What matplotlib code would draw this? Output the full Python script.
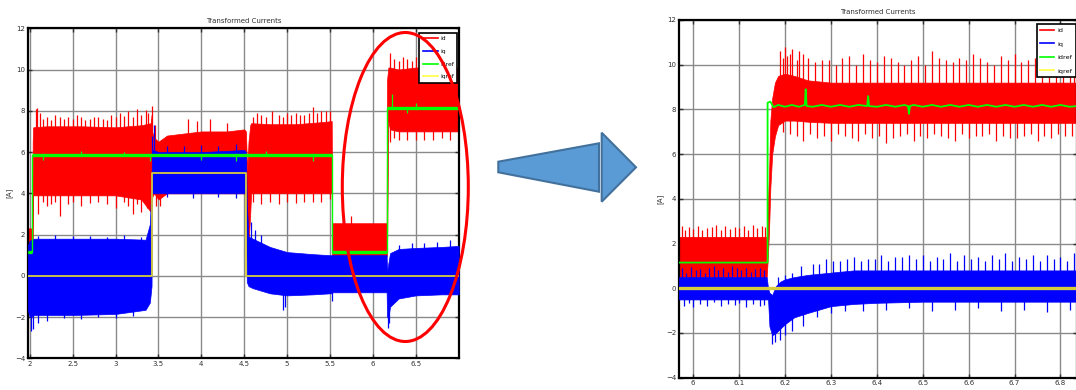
import matplotlib
matplotlib.use("Agg")
import matplotlib.pyplot as plt
import numpy as np
from matplotlib.lines import Line2D
from matplotlib.patches import Ellipse, Polygon

plt.rcParams['font.family'] = ['Liberation Sans Narrow', 'DejaVu Sans']

# ---------------- left plot: whole run (t = 1.98 .. 7.0 s) ----------------
# id : envelope of the noisy band + the spikes sticking out of it
L_id_t = [1.98, 2.03, 2.035, 2.04, 2.2, 2.6, 3.0, 3.3, 3.41, 3.42, 3.425, 3.45, 3.5, 3.6, 3.8, 4.0, 4.3, 4.5,
          4.52, 4.535, 4.55, 4.57, 4.58, 4.8, 5.1, 5.4, 5.52, 5.525, 5.8, 6.0, 6.16, 6.165, 6.18, 6.2, 6.3,
          6.5, 6.8, 7.0]
L_id_hi = [2.3, 2.3, 6.5, 7.2, 7.25, 7.25, 7.2, 7.3, 7.4, 7.8, 7.0, 6.7, 6.5, 6.8, 6.9, 7.0, 7.0, 7.1,
           7.0, 5.0, 6.5, 7.3, 7.4, 7.35, 7.35, 7.45, 7.5, 2.55, 2.55, 2.55, 2.55, 9.5, 10.1, 10.1, 10.0,
           10.1, 10.1, 10.1]
L_id_lo = [1.1, 1.1, 1.1, 3.9, 3.9, 3.9, 3.9, 3.7, 3.1, 2.9, 3.8, 4.0, 3.7, 4.0, 4.0, 4.0, 4.0, 4.0,
           3.9, 2.0, 1.6, 3.0, 4.0, 4.0, 4.0, 4.0, 4.0, 0.95, 0.95, 0.95, 0.95, 1.1, 7.5, 7.1, 7.0,
           7.0, 7.0, 7.0]
L_id_up_t = [2.07, 2.09, 2.12, 2.15, 2.2, 2.25, 2.3, 2.35, 2.4, 2.45, 2.5, 2.55, 2.6, 2.65, 2.7, 2.75,
             2.8, 2.85, 2.9, 2.95, 3.0, 3.05, 3.1, 3.15, 3.2, 3.25, 3.3, 3.35, 3.38, 3.43, 3.46, 3.85,
             3.95, 4.1, 4.3, 4.6, 4.65, 4.7, 4.75, 4.82, 4.9, 4.95, 5.0, 5.05, 5.1, 5.15, 5.2, 5.25,
             5.3, 5.35, 5.4, 5.45, 5.5, 5.65, 5.75, 6.2, 6.25, 6.3, 6.35, 6.4, 6.45, 6.5, 6.55, 6.6,
             6.65, 6.7, 6.75, 6.8, 6.85, 6.9, 6.95]
L_id_up_v = [8.1, 8.15, 7.9, 7.6, 7.7, 7.55, 7.8, 7.7, 7.6, 7.7, 7.6, 7.8, 7.7, 7.55, 7.6, 7.7,
             7.7, 7.6, 7.55, 7.8, 7.7, 7.9, 7.75, 8.0, 7.7, 8.1, 7.8, 8.05, 7.9, 8.25, 7.3, 7.6,
             7.5, 7.6, 7.4, 7.7, 7.9, 7.8, 7.7, 8.0, 7.8, 7.7, 7.9, 7.8, 7.9, 7.8, 7.8, 7.9,
             8.2, 7.9, 8.0, 8.0, 8.0, 3.0, 2.9, 10.8, 10.5, 10.4, 10.6, 10.5, 10.4, 10.6, 10.7, 10.5,
             10.4, 10.5, 10.5, 10.6, 10.4, 10.5, 10.5]
L_id_dn_t = [2.1, 2.15, 2.2, 2.25, 2.3, 2.35, 2.45, 2.5, 2.6, 2.7, 2.8, 2.9, 3.0, 3.1, 3.15, 3.2, 3.25,
             3.3, 3.37, 3.47, 3.52, 4.6, 4.7, 4.8, 4.9, 5.0, 5.1, 5.2, 5.3, 5.4, 5.5, 6.2, 6.25, 6.3,
             6.4, 6.5, 6.6, 6.7, 6.8, 6.9]
L_id_dn_v = [3.0, 3.6, 3.4, 3.5, 3.6, 2.9, 3.5, 3.6, 3.4, 3.55, 3.6, 3.5, 3.3, 3.6, 3.4, 3.0, 3.5,
             3.1, 3.3, 3.4, 3.4, 3.6, 3.5, 3.6, 3.5, 3.6, 3.55, 3.6, 3.6, 3.6, 3.7, 6.5, 6.7, 6.6,
             6.6, 6.6, 6.6, 6.6, 6.7, 6.6]

# iq
L_iq_t = [1.98, 2.0, 2.05, 2.5, 3.0, 3.35, 3.4, 3.42, 3.425, 3.44, 3.5, 4.0, 4.5, 4.52, 4.53, 4.55, 4.6,
          4.8, 5.0, 5.3, 5.5, 5.52, 5.53, 5.8, 6.16, 6.165, 6.18, 6.2, 6.3, 6.5, 6.8, 7.0]
L_iq_hi = [1.5, 1.7, 1.8, 1.8, 1.8, 1.75, 2.5, 4.5, 6.0, 6.1, 6.0, 6.0, 6.1, 6.0, 3.5, 1.9, 1.8,
           1.4, 1.15, 1.05, 1.0, 1.0, 1.0, 1.0, 1.0, 0.2, 0.6, 1.1, 1.3, 1.35, 1.4, 1.45]
L_iq_lo = [-1.7, -2.0, -1.9, -1.9, -1.85, -1.65, -1.3, -0.5, 4.0, 4.0, 4.0, 4.0, 4.0, 4.0, -0.3, -0.5,
           -0.6, -0.85, -0.95, -0.9, -0.85, -0.85, -0.8, -0.8, -0.8, -2.0, -2.0, -1.5, -1.1, -0.95,
           -0.9, -0.9]
L_iq_up_t = [3.43, 3.45, 2.1, 2.3, 2.5, 2.7, 2.9, 3.1, 3.3, 3.6, 3.8, 4.0, 4.2, 4.4, 4.58, 4.62,
             4.7, 6.3, 6.45, 6.6, 6.75, 6.9]
L_iq_up_v = [6.8, 7.3, 1.95, 2.0, 1.95, 1.95, 1.9, 2.0, 1.9, 6.3, 6.3, 6.35, 6.3, 6.4, 2.6, 2.2,
             2.0, 1.5, 1.6, 1.6, 1.65, 1.75]
L_iq_dn_t = [2.02, 2.04, 2.1, 2.2, 2.4, 2.6, 2.8, 3.0, 3.2, 3.6, 3.9, 4.2, 4.4, 4.95, 4.98, 5.52,
             6.172, 6.19]
L_iq_dn_v = [-2.7, -2.6, -2.3, -2.2, -2.05, -2.1, -2.0, -2.05, -1.95, 3.8, 3.75, 3.8, 3.75, -1.65,
             -1.5, -1.2, -2.55, -2.3]

# references
L_idref_t = [1.98, 2.032, 2.032, 5.52, 5.52, 6.16, 6.16, 7.0]
L_idref_v = [1.15, 1.15, 5.85, 5.85, 1.15, 1.15, 8.15, 8.15]
L_idref_sp_t = [2.15, 2.6, 3.1, 3.4, 4.0, 4.4, 4.75, 5.3, 6.22, 6.4, 6.5]
L_idref_sp_v = [5.6, 6.05, 6.0, 5.55, 5.6, 5.55, 6.05, 5.55, 8.8, 7.9, 8.4]
L_iqref_t = [1.98, 3.42, 3.42, 4.52, 4.52, 7.0]
L_iqref_v = [0, 0, 5, 5, 0, 0]

# ---------------- right plot: zoom on the step (t = 5.969 .. 6.836 s) ----------------
R_id_t = [5.969, 6.16, 6.162, 6.165, 6.168, 6.172, 6.178, 6.185, 6.2, 6.22, 6.25, 6.3, 6.4, 6.5, 6.6,
          6.7, 6.8, 6.836]
R_id_hi = [2.3, 2.3, 3.5, 5.0, 7.5, 8.5, 9.2, 9.5, 9.6, 9.5, 9.3, 9.2, 9.2, 9.2, 9.2, 9.2, 9.2, 9.2]
R_id_lo = [0.5, 0.5, 1.2, 2.5, 4.5, 6.0, 6.8, 7.3, 7.5, 7.5, 7.45, 7.4, 7.4, 7.4, 7.4, 7.4, 7.4, 7.4]
R_id_up_t = [5.975, 5.983, 5.99, 6.0, 6.01, 6.02, 6.03, 6.04, 6.05, 6.06, 6.07, 6.08, 6.09, 6.1, 6.11,
             6.12, 6.13, 6.14, 6.15, 6.157,
             6.19, 6.195, 6.2, 6.205, 6.21, 6.215, 6.225, 6.23, 6.24, 6.25, 6.265, 6.28, 6.295, 6.31,
             6.325, 6.34, 6.355, 6.37, 6.385, 6.40, 6.415, 6.43, 6.445, 6.46, 6.475, 6.49, 6.505, 6.52,
             6.535, 6.55, 6.565, 6.58, 6.595, 6.61, 6.625, 6.64, 6.655, 6.67, 6.685, 6.70, 6.715, 6.73,
             6.745, 6.76, 6.775, 6.79, 6.805, 6.82, 6.83]
R_id_up_v = [2.8, 2.6, 2.75, 2.65, 2.8, 2.6, 2.7, 2.75, 2.85, 2.6, 2.8, 2.65, 2.75, 2.7, 2.8,
             2.6, 2.85, 2.7, 2.8, 2.75,
             10.6, 10.3, 10.8, 10.4, 10.5, 10.7, 10.2, 10.6, 10.5, 10.3, 10.1, 10.2, 10.2, 10.0,
             10.3, 10.4, 10.0, 10.5, 10.2, 10.1, 10.4, 10.3, 10.1, 10.0, 10.2, 10.4, 10.0, 10.6,
             10.3, 10.2, 10.1, 10.3, 10.2, 10.5, 10.3, 10.1, 10.0, 10.4, 10.2, 10.5, 10.1, 10.2,
             10.3, 10.4, 10.0, 10.3, 10.2, 10.4, 10.1]
R_id_dn_t = [6.195, 6.21, 6.225, 6.24, 6.255, 6.27, 6.285, 6.3, 6.315, 6.33, 6.345, 6.36, 6.375, 6.39,
             6.405, 6.42, 6.435, 6.45, 6.465, 6.48, 6.495, 6.51, 6.525, 6.54, 6.555, 6.57, 6.585,
             6.6, 6.615, 6.63, 6.645, 6.66, 6.675, 6.69, 6.705, 6.72, 6.735, 6.75, 6.765, 6.78,
             6.795, 6.81, 6.825]
R_id_dn_v = [7.0, 6.9, 6.8, 6.6, 6.9, 6.7, 6.8, 6.6, 6.9, 6.8, 6.7, 6.6, 6.9, 6.7,
             6.8, 6.5, 6.7, 6.8, 6.9, 6.6, 6.8, 6.7, 6.9, 6.8, 6.7, 6.6, 6.9,
             6.7, 6.8, 6.8, 6.9, 6.6, 6.8, 6.7, 6.7, 6.8, 6.9, 6.6, 6.8, 6.7,
             6.9, 6.8, 6.8]

R_iq_t = [5.969, 6.16, 6.163, 6.166, 6.172, 6.18, 6.19, 6.2, 6.22, 6.25, 6.3, 6.35, 6.4, 6.5, 6.6,
          6.7, 6.8, 6.836]
R_iq_hi = [0.5, 0.5, 0.0, -0.2, -0.3, 0.1, 0.3, 0.4, 0.5, 0.6, 0.7, 0.8, 0.8, 0.8, 0.8, 0.8, 0.8, 0.8]
R_iq_lo = [-0.5, -0.5, -0.5, -1.7, -2.1, -2.0, -1.8, -1.6, -1.3, -1.1, -0.8, -0.7, -0.65, -0.6,
           -0.6, -0.6, -0.6, -0.6]
R_iq_up_t = [5.975, 5.985, 5.995, 6.005, 6.015, 6.025, 6.035, 6.045, 6.055, 6.065, 6.075, 6.085,
             6.095, 6.105, 6.115, 6.125, 6.135, 6.145, 6.155,
             6.185, 6.2, 6.215, 6.235, 6.26, 6.275, 6.29, 6.305, 6.32, 6.335, 6.35, 6.365, 6.38,
             6.395, 6.41, 6.425, 6.44, 6.455, 6.47, 6.485, 6.5, 6.515, 6.53, 6.545, 6.56, 6.575,
             6.59, 6.605, 6.62, 6.635, 6.65, 6.665, 6.68, 6.695, 6.71, 6.725, 6.74, 6.755, 6.77,
             6.785, 6.8, 6.815, 6.83]
R_iq_up_v = [0.9, 0.7, 0.95, 0.8, 0.85, 0.7, 0.9, 1.0, 0.8, 0.9, 0.75, 1.0, 0.9, 0.8, 0.9,
             0.75, 0.85, 0.9, 0.8,
             0.5, 0.6, 0.7, 1.0, 1.1, 1.1, 1.3, 1.2, 1.2, 1.3, 1.4, 1.2, 1.3, 1.3, 1.5, 1.2,
             1.4, 1.4, 1.5, 1.3, 1.5, 1.2, 1.4, 1.3, 1.6, 1.2, 1.5, 1.3, 1.4, 1.2, 1.5, 1.3,
             1.6, 1.2, 1.4, 1.3, 1.5, 1.2, 1.5, 1.3, 1.4, 1.2, 1.6]
R_iq_dn_t = [5.98, 5.99, 6.0, 6.015, 6.03, 6.045, 6.06, 6.075, 6.09, 6.1, 6.115, 6.13, 6.145, 6.155,
             6.172, 6.178, 6.19, 6.2, 6.215, 6.24, 6.27, 6.3, 6.33, 6.37, 6.42, 6.47, 6.52, 6.57,
             6.62, 6.67, 6.72, 6.77, 6.82]
R_iq_dn_v = [-0.8, -0.65, -0.85, -0.7, -0.8, -0.6, -0.8, -0.7, -0.75, -0.65, -0.85, -0.7, -0.8, -0.75,
             -2.5, -2.4, -2.3, -2.1, -1.9, -1.7, -1.3, -1.1, -1.0, -1.0, -0.95, -0.9, -1.0, -0.95,
             -0.9, -1.0, -0.95, -1.05, -0.95]

R_idref_t = [5.969, 6.162, 6.162, 6.168, 6.175, 6.185, 6.2, 6.215, 6.23, 6.243, 6.245, 6.247, 6.26,
             6.28, 6.3, 6.32, 6.34, 6.36, 6.379, 6.381, 6.383, 6.4, 6.42, 6.44, 6.46, 6.468, 6.47,
             6.472, 6.48, 6.5, 6.52, 6.54, 6.56, 6.58, 6.6, 6.62, 6.64, 6.66, 6.68, 6.7, 6.72, 6.74,
             6.76, 6.78, 6.8, 6.82, 6.836]
R_idref_v = [1.15, 1.15, 8.3, 8.35, 8.1, 8.2, 8.12, 8.2, 8.12, 8.2, 8.9, 8.15, 8.12,
             8.2, 8.12, 8.2, 8.12, 8.2, 8.15, 8.6, 8.15, 8.12, 8.2, 8.12, 8.2, 8.15, 7.8,
             8.15, 8.2, 8.12, 8.2, 8.12, 8.2, 8.12, 8.2, 8.12, 8.2, 8.12, 8.2, 8.12, 8.2, 8.12,
             8.2, 8.12, 8.2, 8.12, 8.15]
R_iqref_t = [5.969, 6.836]
R_iqref_v = [0, 0]

labels = ['id', 'iq', 'idref', 'iqref']
c_id, c_iq, c_idref, c_iqref = '#FF0000', '#0000FF', '#00FF00', '#D6CC3C'


def noisy(ax, t, lo, hi, up_t, up_v, dn_t, dn_v, color, z):
    ax.fill_between(t, lo, hi, facecolor=color, edgecolor=color, lw=0.5, zorder=z)
    base_up = np.interp(up_t, t, hi)
    base_dn = np.interp(dn_t, t, lo)
    ax.vlines(up_t, base_up - 0.2, up_v, color=color, lw=0.9, zorder=z)
    ax.vlines(dn_t, dn_v, base_dn + 0.2, color=color, lw=0.9, zorder=z)


def style(ax, xlim, xticks, xlabels):
    ax.set_xlim(*xlim)
    ax.set_ylim(-4, 12)
    ax.set_xticks(xticks)
    ax.set_xticklabels(xlabels)
    ax.set_yticks(range(-4, 13, 2))
    ax.grid(True, color='#8a8a8a', lw=1.0, zorder=0)
    ax.set_axisbelow(True)
    ax.tick_params(direction='in', top=True, right=True, length=3, width=1,
                   labelsize=5, colors='#303030', pad=2)
    for s in ax.spines.values():
        s.set_linewidth(1.6)
        s.set_color('black')
    ax.set_title('Transformed Currents', fontsize=5, color='#303030', pad=4)
    ax.set_ylabel('[A]', fontsize=5, color='#303030', labelpad=2)


def legend(ax, anchor, fs, hl):
    h = [Line2D([], [], color=c, lw=1.2) for c in (c_id, c_iq, c_idref, '#FFFF40')]
    lg = ax.legend(h, labels, loc='upper right', bbox_to_anchor=anchor, fontsize=fs,
                   handlelength=hl, handletextpad=0.4, labelspacing=1.25, borderpad=0.6,
                   borderaxespad=0, fancybox=False, framealpha=1, edgecolor='black')
    lg.get_frame().set_linewidth(1.2)
    lg.set_zorder(20)


fig = plt.figure(figsize=(10.76, 3.9), dpi=100)

# left axes
ax1 = fig.add_axes([28 / 1076, 1 - 358.3 / 390, 430.7 / 1076, 330 / 390])
noisy(ax1, L_id_t, L_id_lo, L_id_hi, L_id_up_t, L_id_up_v, L_id_dn_t, L_id_dn_v, c_id, 2)
noisy(ax1, L_iq_t, L_iq_lo, L_iq_hi, L_iq_up_t, L_iq_up_v, L_iq_dn_t, L_iq_dn_v, c_iq, 3)
ax1.plot(L_idref_t, L_idref_v, color=c_idref, lw=1.0, zorder=4)
ax1.hlines(L_idref_v[1::2], L_idref_t[0::2], L_idref_t[1::2], color=c_idref, lw=2.4, zorder=4)
sp_base = np.interp(L_idref_sp_t, L_idref_t, L_idref_v)
ax1.vlines(L_idref_sp_t, sp_base, L_idref_sp_v, color=c_idref, lw=0.9, zorder=4)
ax1.plot(L_iqref_t, L_iqref_v, color=c_iqref, lw=1.3, zorder=5)
style(ax1, (1.98, 7.0), [2, 2.5, 3, 3.5, 4, 4.5, 5, 5.5, 6, 6.5],
      ['2', '2.5', '3', '3.5', '4', '4.5', '5', '5.5', '6', '6.5'])
legend(ax1, (0.997, 0.987), 4.3, 2.5)

# right axes (runs off the right edge of the picture)
ax2 = fig.add_axes([679 / 1076, 1 - 377.7 / 390, 398 / 1076, 357.7 / 390])
noisy(ax2, R_id_t, R_id_lo, R_id_hi, R_id_up_t, R_id_up_v, R_id_dn_t, R_id_dn_v, c_id, 2)
noisy(ax2, R_iq_t, R_iq_lo, R_iq_hi, R_iq_up_t, R_iq_up_v, R_iq_dn_t, R_iq_dn_v, c_iq, 3)
ax2.plot(R_idref_t, R_idref_v, color=c_idref, lw=1.3, zorder=4)
ax2.plot(R_iqref_t, R_iqref_v, color=c_iqref, lw=2.4, zorder=5)
style(ax2, (5.969, 6.836), [6, 6.1, 6.2, 6.3, 6.4, 6.5, 6.6, 6.7, 6.8],
      ['6', '6.1', '6.2', '6.3', '6.4', '6.5', '6.6', '6.7', '6.8'])
legend(ax2, (0.997, 0.989), 4.6, 2.2)

# red ellipse around the step on the left plot
W, H = 1076.0, 390.0
fig.add_artist(Ellipse((405.3 / W, 1 - 187 / H), 126 / W, 309 / H, transform=fig.transFigure,
                       fill=False, edgecolor='#FF0000', lw=2.2, zorder=30))

# block arrow between the plots
shaft = [(498.3, 161.7), (599, 143.3), (599, 191.7), (498.3, 172.3)]
head = [(601.7, 132.7), (636, 167.3), (601.7, 201.7)]
for pts in (shaft, head):
    fig.add_artist(Polygon([(x / W, 1 - y / H) for x, y in pts], closed=True,
                           transform=fig.transFigure, facecolor='#5B9BD5',
                           edgecolor='#41719C', lw=1.5, zorder=30))

fig.savefig('out.png', dpi=100)
